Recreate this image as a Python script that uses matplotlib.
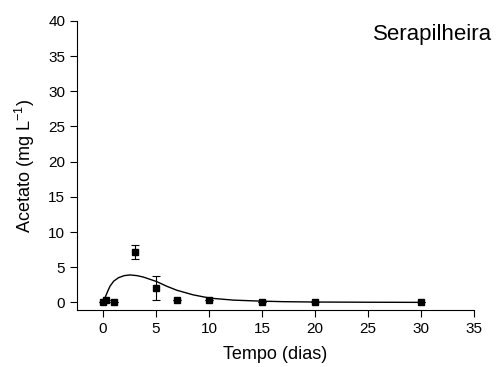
import matplotlib
matplotlib.use("Agg")
import matplotlib.pyplot as plt

plt.rcParams['font.family'] = ['Liberation Sans', 'DejaVu Sans']
plt.rcParams['mathtext.fontset'] = 'custom'
plt.rcParams['mathtext.rm'] = 'Liberation Sans'
plt.rcParams['mathtext.default'] = 'regular'

# measured points
dias = [0, 0.3, 1, 3, 5, 7, 10, 15, 20, 30]
acetato = [0.0, 0.4, 0.0, 7.2, 2.1, 0.4, 0.4, 0.1, 0.0, 0.0]
erro = [0, 0, 0, 1.0, 1.7, 0, 0, 0, 0, 0]

# fitted curve
curva_x = [0.2, 0.45, 0.66, 1.0, 1.45, 2.0, 2.55, 3.2, 3.8, 5.07, 6.0, 6.95, 8.5, 10.1, 12.3, 14.8, 17.0, 20.0, 25.0, 30.0]
curva_y = [0.7, 1.6, 2.3, 3.0, 3.5, 3.8, 3.9, 3.8, 3.6, 2.95, 2.3, 1.73, 1.07, 0.6, 0.32, 0.18, 0.1, 0.05, 0.02, 0.0]

fig = plt.figure(figsize=(4.97, 3.67), dpi=100)
ax = fig.add_axes([0.155, 0.155, 0.799, 0.788])

ax.plot(curva_x, curva_y, color='black', lw=1.0)
ax.errorbar(dias, acetato, yerr=erro, fmt='s', color='black', ms=5,
            capsize=3, elinewidth=0.8, capthick=0.8)

ax.set_xlim(-2.45, 35)
ax.set_ylim(-1.1, 40)
ax.set_xticks(range(0, 36, 5))
ax.set_yticks(range(0, 41, 5))
ax.spines['top'].set_visible(False)
ax.spines['right'].set_visible(False)
ax.tick_params(direction='out', length=5, labelsize=11)

ax.set_xlabel('Tempo (dias)', fontsize=13, labelpad=7)
ax.set_ylabel('Acetato (mg L$^{-1}$)', fontsize=13)
ax.yaxis.set_label_coords(-0.1, 0.5)
fig.text(0.99, 0.935, 'Serapilheira', ha='right', va='top', fontsize=16)

fig.savefig('out.png', dpi=100)
